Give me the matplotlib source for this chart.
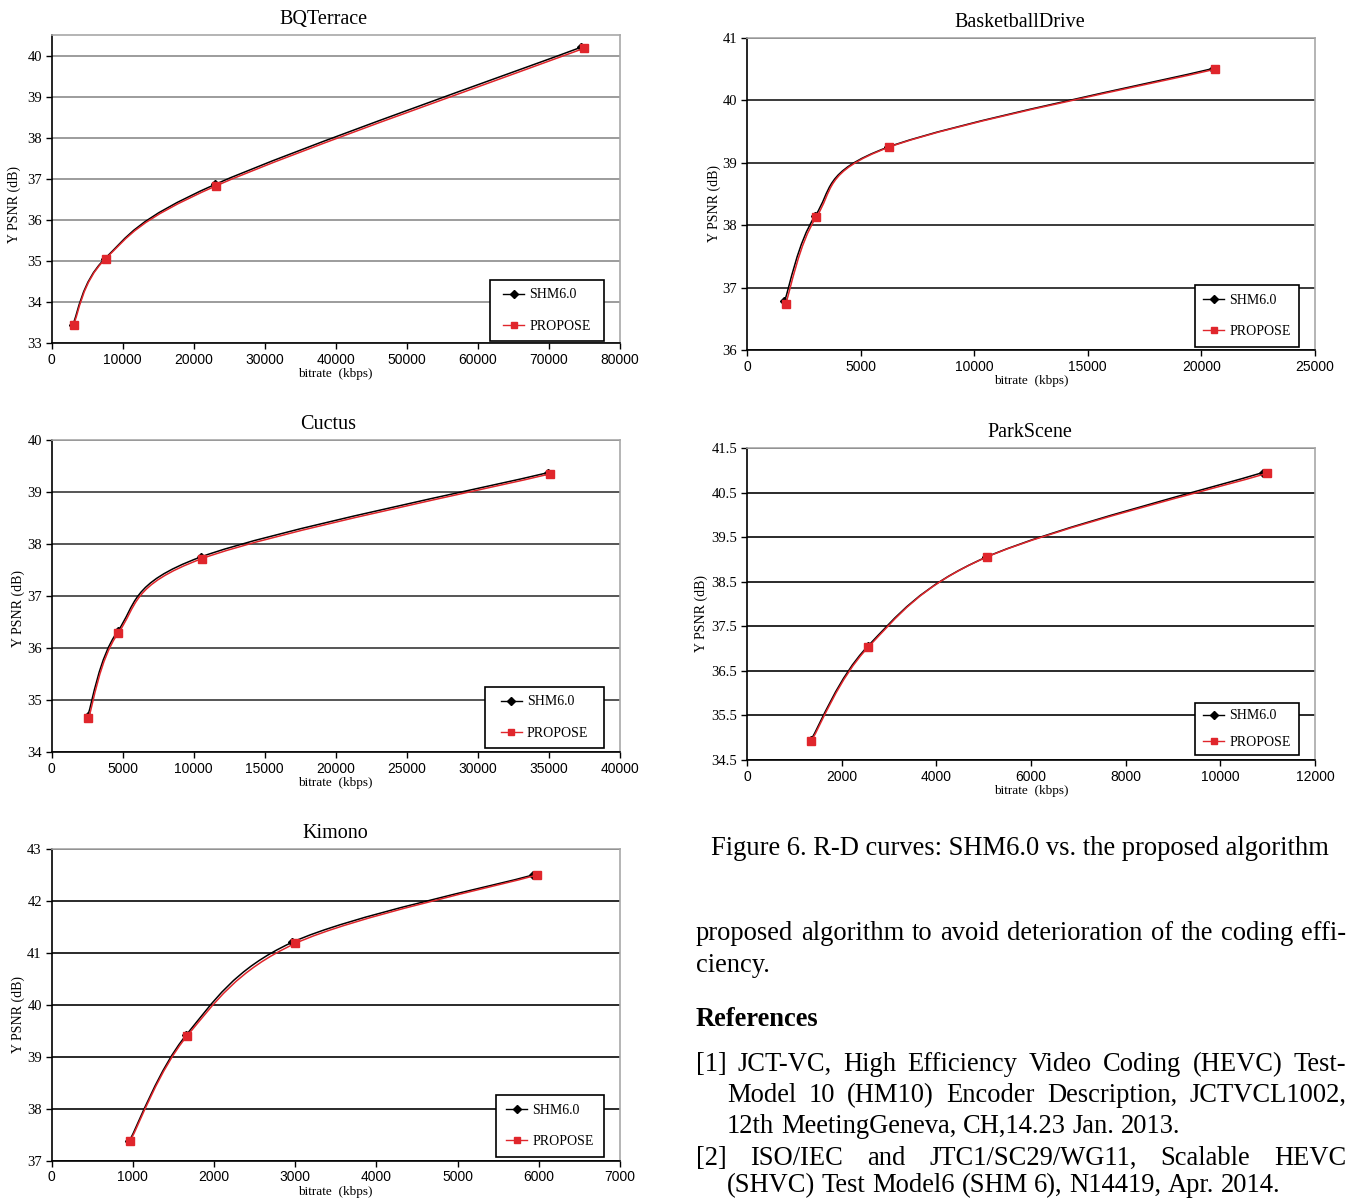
import numpy as np
import matplotlib
matplotlib.use("Agg")
import matplotlib.pyplot as plt
import matplotlib.patches as patches
from matplotlib.path import Path
from matplotlib.lines import Line2D

plt.rcParams['font.family'] = 'Liberation Serif'

W, H = 1351, 1198
RED = '#e0262c'

# ------------------------
# Data (bitrate kbps, Y PSNR dB)
# ------------------------
titles = ["BQTerrace", "BasketballDrive", "Cuctus", "ParkScene", "Kimono"]

bq_rate_shm = [3000, 7500, 23000, 74500]
bq_psnr_shm = [33.45, 35.05, 36.86, 40.20]
bq_rate_pro = [3100, 7600, 23200, 75000]
bq_psnr_pro = [33.45, 35.05, 36.83, 40.18]

bd_rate_shm = [1650, 3000, 6200, 20500]
bd_psnr_shm = [36.78, 38.15, 39.25, 40.51]
bd_rate_pro = [1700, 3050, 6250, 20600]
bd_psnr_pro = [36.74, 38.13, 39.25, 40.50]

cu_rate_shm = [2550, 4650, 10500, 34900]
cu_psnr_shm = [34.70, 36.32, 37.75, 39.37]
cu_rate_pro = [2600, 4700, 10600, 35100]
cu_psnr_pro = [34.65, 36.29, 37.72, 39.35]

ps_rate_shm = [1350, 2550, 5050, 10900]
ps_psnr_shm = [34.95, 37.05, 39.05, 40.95]
ps_rate_pro = [1360, 2560, 5060, 10980]
ps_psnr_pro = [34.93, 37.03, 39.05, 40.93]

ki_rate_shm = [960, 1660, 2960, 5930]
ki_psnr_shm = [37.38, 39.42, 41.20, 42.50]
ki_rate_pro = [970, 1670, 3000, 5980]
ki_psnr_pro = [37.38, 39.40, 41.18, 42.50]

x_ticks = [np.arange(0, 80001, 10000), np.arange(0, 25001, 5000),
           np.arange(0, 40001, 5000), np.arange(0, 12001, 2000),
           np.arange(0, 7001, 1000)]
y_ticks = [np.arange(33, 41, 1), np.arange(36, 42, 1), np.arange(34, 41, 1),
           np.arange(34.5, 42, 1), np.arange(37, 44, 1)]
y_limits = [(33, 40.5), (36, 41), (34, 40), (34.5, 41.5), (37, 43)]

series = [
    (bq_rate_shm, bq_psnr_shm, bq_rate_pro, bq_psnr_pro),
    (bd_rate_shm, bd_psnr_shm, bd_rate_pro, bd_psnr_pro),
    (cu_rate_shm, cu_psnr_shm, cu_rate_pro, cu_psnr_pro),
    (ps_rate_shm, ps_psnr_shm, ps_rate_pro, ps_psnr_pro),
    (ki_rate_shm, ki_psnr_shm, ki_rate_pro, ki_psnr_pro),
]

# axes boxes in pixels: left, right, top, bottom
boxes = [(51.5, 620, 35, 343), (747, 1315, 38, 350), (51.5, 620, 440, 752),
         (747, 1315, 448, 760), (51.5, 620, 849, 1160.5)]
# legend frames in pixels: left, right, top, bottom
leg_boxes = [(490, 604, 280, 341), (1195, 1299, 285, 347), (485, 604, 687, 748),
             (1195, 1299, 703, 755), (496, 604, 1095, 1157)]
leg_spacing = [1.3, 1.3, 1.3, 0.95, 1.3]
grid_colors = ['#9c9c9c', '#3a3a3a', '#555555', '#2a2a2a', '#2a2a2a']
ylabel_pos = [(-0.053, 0.45), (-0.046, 0.47), (-0.046, 0.46), (-0.068, 0.47), (-0.046, 0.47)]
title_x = [0.478, 0.48, 0.486, 0.498, 0.5]


def smooth_path(xs, ys, t=1 / 6):
    # Excel-like smoothed line: cubic bezier through the points
    p = np.column_stack([xs, ys]).astype(float)
    n = len(p)
    verts = [p[0]]
    codes = [Path.MOVETO]
    for i in range(n - 1):
        p0 = p[max(i - 1, 0)]
        p1 = p[i]
        p2 = p[i + 1]
        p3 = p[min(i + 2, n - 1)]
        verts += [p1 + (p2 - p0) * t, p2 - (p3 - p1) * t, p2]
        codes += [Path.CURVE4] * 3
    return Path(verts, codes)


fig = plt.figure(figsize=(W / 100, H / 100), dpi=100)

for k, (l, r, t, b) in enumerate(boxes):
    ax = fig.add_axes([l / W, 1 - b / H, (r - l) / W, (b - t) / H])
    xs1, ys1, xs2, ys2 = series[k]

    ax.add_patch(patches.PathPatch(smooth_path(xs1, ys1), fill=False,
                                   edgecolor='black', lw=1.1, zorder=3))
    ax.plot(xs1, ys1, ls='none', marker='D', ms=4, color='black', zorder=4)
    ax.add_patch(patches.PathPatch(smooth_path(xs2, ys2), fill=False,
                                   edgecolor=RED, lw=1.1, zorder=5))
    ax.plot(xs2, ys2, ls='none', marker='s', ms=6, color=RED, zorder=6)

    ax.set_xlim(x_ticks[k][0], x_ticks[k][-1])
    ax.set_ylim(*y_limits[k])
    ax.set_xticks(x_ticks[k])
    ax.set_yticks(y_ticks[k])
    ax.set_xticklabels([str(v) for v in x_ticks[k]], family='Liberation Sans', fontsize=10)
    if k == 3:
        ax.set_yticklabels(['%.1f' % v for v in y_ticks[k]], fontsize=10.5)
    else:
        ax.set_yticklabels(['%d' % v for v in y_ticks[k]], fontsize=10.5)
    ax.tick_params(axis='both', direction='out', length=4, width=1, pad=3)

    ax.yaxis.grid(True, color=grid_colors[k], lw=1.4)
    ax.set_axisbelow(True)
    for side in ['top', 'right']:
        ax.spines[side].set_color('#a8a8a8')
        ax.spines[side].set_linewidth(1.2)
    for side in ['left', 'bottom']:
        ax.spines[side].set_color('black')
        ax.spines[side].set_linewidth(1.2)

    ax.set_title(titles[k], fontsize=14.5, pad=8, x=title_x[k])
    ax.set_ylabel('Y PSNR (dB)', fontsize=10)
    ax.yaxis.set_label_coords(*ylabel_pos[k])
    ax.set_xlabel('bitrate  (kbps)', fontsize=9.5, labelpad=1)

    # legend: frame drawn as a box, entries centred in it
    ll, lr, lt, lb = leg_boxes[k]
    fx0 = (ll - l) / (r - l)
    fx1 = (lr - l) / (r - l)
    fy0 = (b - lb) / (b - t)
    fy1 = (b - lt) / (b - t)
    ax.add_patch(patches.Rectangle((fx0, fy0), fx1 - fx0, fy1 - fy0,
                                   transform=ax.transAxes, facecolor='white',
                                   edgecolor='black', lw=1.2, zorder=7))
    handles = [Line2D([], [], color='black', lw=1, marker='D', ms=4),
               Line2D([], [], color=RED, lw=1, marker='s', ms=5)]
    leg = ax.legend(handles, ['SHM6.0', 'PROPOSE'], loc='center',
                    bbox_to_anchor=((fx0 + fx1) / 2, (fy0 + fy1) / 2),
                    frameon=False, fontsize=10, labelspacing=leg_spacing[k],
                    handlelength=1.5, handletextpad=0.35, borderpad=0,
                    borderaxespad=0)
    leg.set_zorder(8)

# ------------------------
# Page text on the right
# ------------------------
renderer = fig.canvas.get_renderer()
FS = 19.1


def put_line(text, x0, y, x1=None, weight='normal'):
    words = text.split()
    objs = [fig.text(0, 1 - y / H, w, fontsize=FS, weight=weight, va='baseline')
            for w in words]
    widths = [o.get_window_extent(renderer).width for o in objs]
    if x1 is None or len(words) < 2:
        space = objs[0].get_fontsize() * 0.25 * 100 / 72
    else:
        space = (x1 - x0 - sum(widths)) / (len(words) - 1)
    x = x0
    for o, w in zip(objs, widths):
        o.set_x(x / W)
        x += w + space


fig.text(1020 / W, 1 - 855 / H, 'Figure 6. R-D curves: SHM6.0 vs. the proposed algorithm',
         fontsize=FS, ha='center', va='baseline')
put_line('proposed algorithm to avoid deterioration of the coding effi-', 696, 940, 1346)
put_line('ciency.', 696, 972)
put_line('References', 696, 1026, weight='bold')
put_line('[1] JCT-VC, High Efficiency Video Coding (HEVC) Test-', 696, 1071, 1346)
put_line('Model 10 (HM10) Encoder Description, JCTVCL1002,', 727, 1102, 1346)
put_line('12th MeetingGeneva, CH,14.23 Jan. 2013.', 727, 1133)
put_line('[2] ISO/IEC and JTC1/SC29/WG11, Scalable HEVC', 696, 1165, 1346)
put_line('(SHVC) Test Model6 (SHM 6), N14419, Apr. 2014.', 727, 1192)

fig.savefig('out.png', dpi=100)
